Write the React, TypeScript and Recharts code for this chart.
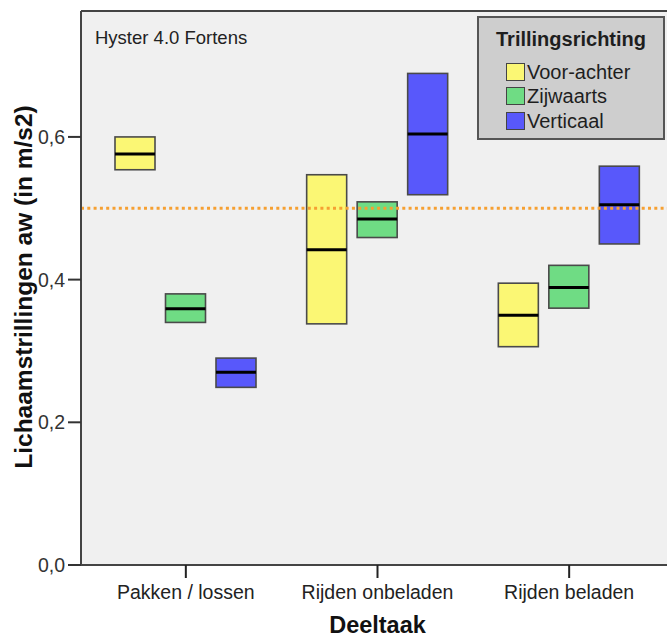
import React from 'react';
import {
  ComposedChart,
  Bar,
  XAxis,
  YAxis,
  CartesianGrid,
  ReferenceLine,
  Legend,
  Label,
} from 'recharts';

// Sub-tasks on the category axis
const tasks = ['Pakken / lossen', 'Rijden onbeladen', 'Rijden beladen'];

// Vibration directions (one box per direction per task)
const directions = ['Voor-achter', 'Zijwaarts', 'Verticaal'];
const directionColors = ['#fbf774', '#6fdc84', '#5858fb'];

// Lower quartile, median and upper quartile of aw (m/s2), per direction
const q1VoorAchter = [0.554, 0.338, 0.306];
const medVoorAchter = [0.576, 0.442, 0.35];
const q3VoorAchter = [0.6, 0.547, 0.395];

const q1Zijwaarts = [0.34, 0.459, 0.36];
const medZijwaarts = [0.359, 0.485, 0.389];
const q3Zijwaarts = [0.38, 0.509, 0.42];

const q1Verticaal = [0.249, 0.519, 0.45];
const medVerticaal = [0.27, 0.604, 0.505];
const q3Verticaal = [0.29, 0.689, 0.559];

// Action value line
const limitValue = 0.5;

const yTicks = [0, 0.2, 0.4, 0.6];
const yMax = 0.7765;

const chartTitle = 'Hyster 4.0 Fortens';
const legendTitle = 'Trillingsrichting';
const xTitle = 'Deeltaak';
const yTitle = 'Lichaamstrillingen aw (in m/s2)';

const lowers = [q1VoorAchter, q1Zijwaarts, q1Verticaal];
const medians = [medVoorAchter, medZijwaarts, medVerticaal];
const uppers = [q3VoorAchter, q3Zijwaarts, q3Verticaal];

const data = tasks.map((task, i) => {
  const row: Record<string, number | string> = { task };
  directions.forEach((_, s) => {
    row[`base${s}`] = lowers[s][i];
    row[`box${s}`] = uppers[s][i] - lowers[s][i];
    row[`q1_${s}`] = lowers[s][i];
    row[`med${s}`] = medians[s][i];
    row[`q3_${s}`] = uppers[s][i];
  });
  return row;
});

const FONT = "'Liberation Sans', Arial, sans-serif";
const AXIS_COLOR = '#444';

// Box with its median line, drawn from the stacked bar geometry
const makeBoxShape = (s: number) => (props: any) => {
  const { x, y, width, height, payload } = props;
  const q1 = payload[`q1_${s}`] as number;
  const q3 = payload[`q3_${s}`] as number;
  const med = payload[`med${s}`] as number;
  const my = y + (height * (q3 - med)) / (q3 - q1);
  return (
    <g>
      <rect
        x={x}
        y={y}
        width={width}
        height={height}
        fill={directionColors[s]}
        stroke="#4a4a4a"
        strokeWidth={1.6}
      />
      <line x1={x} x2={x + width} y1={my} y2={my} stroke="#000" strokeWidth={3} />
    </g>
  );
};

// Legend panel, listed in series order
const LegendBox = () => (
  <div
    style={{
      boxSizing: 'border-box',
      width: 188,
      height: 124,
      background: '#cecece',
      border: '2px solid #555',
      fontFamily: FONT,
      color: '#1e1e1e',
    }}
  >
    <div
      style={{
        marginTop: 9,
        fontWeight: 'bold',
        fontSize: 20,
        lineHeight: '24px',
        textAlign: 'center',
      }}
    >
      {legendTitle}
    </div>
    <div style={{ marginTop: 9 }}>
      {directions.map((name, s) => (
        <div
          key={name}
          style={{ display: 'flex', alignItems: 'center', height: 24.3, marginLeft: 27 }}
        >
          <span
            style={{
              boxSizing: 'border-box',
              display: 'inline-block',
              width: 19,
              height: 18,
              background: directionColors[s],
              border: '1.5px solid #444',
            }}
          />
          <span style={{ fontSize: 20, lineHeight: '24px', marginLeft: 2 }}>{name}</span>
        </div>
      ))}
    </div>
  </div>
);

export default function App() {
  return (
    <div
      style={{
        position: 'absolute',
        left: 0,
        top: 0,
        width: 667,
        height: 638,
        overflow: 'hidden',
        background: '#fff',
        fontFamily: FONT,
      }}
    >
      <ComposedChart
        width={690}
        height={638}
        data={data}
        margin={{ top: 11, right: 0, bottom: 0, left: 0 }}
        barSize={40}
        barGap={10.5}
      >
        <CartesianGrid fill="#f0f0f0" horizontal={false} vertical={false} />
        <XAxis
          dataKey="task"
          type="category"
          height={73}
          padding={{ left: 9, right: 25 }}
          axisLine={{ stroke: AXIS_COLOR, strokeWidth: 2 }}
          tickLine={{ stroke: '#222', strokeWidth: 2 }}
          tickSize={13}
          tickMargin={7}
          tick={{ fontSize: 19.5, fill: '#222' }}
        >
          <Label
            value={xTitle}
            position="insideBottom"
            offset={5}
            dx={-8}
            style={{ fontSize: 23.5, fontWeight: 'bold', fill: '#111' }}
          />
        </XAxis>
        <YAxis
          type="number"
          width={81}
          domain={[0, yMax]}
          ticks={yTicks}
          interval={0}
          tickFormatter={(v: number) => v.toFixed(1).replace('.', ',')}
          axisLine={{ stroke: AXIS_COLOR, strokeWidth: 2 }}
          tickLine={{ stroke: '#333', strokeWidth: 2 }}
          tickSize={13}
          tickMargin={3}
          tick={{ fontSize: 19.5, fill: '#333' }}
        >
          <Label
            content={() => (
              <g>
                <text
                  x={32}
                  y={287}
                  transform="rotate(-90, 32, 287)"
                  textAnchor="middle"
                  style={{ fontSize: 24.5, fontWeight: 'bold', fill: '#111' }}
                >
                  {yTitle}
                </text>
                <text x={95} y={44} style={{ fontSize: 18.5, fill: '#222' }}>
                  {chartTitle}
                </text>
              </g>
            )}
          />
        </YAxis>
        {directions.map((d, s) => (
          <Bar
            key={`base${s}`}
            dataKey={`base${s}`}
            stackId={`s${s}`}
            fill="transparent"
            legendType="none"
            isAnimationActive={false}
          />
        ))}
        {directions.map((d, s) => (
          <Bar
            key={`box${s}`}
            dataKey={`box${s}`}
            name={d}
            stackId={`s${s}`}
            fill={directionColors[s]}
            shape={makeBoxShape(s)}
            isAnimationActive={false}
          />
        ))}
        <ReferenceLine y={yMax} stroke={AXIS_COLOR} strokeWidth={2} />
        <ReferenceLine
          y={limitValue}
          stroke="#f6a032"
          strokeWidth={3}
          strokeDasharray="3 3.3"
        />
        <Legend
          layout="vertical"
          align="center"
          verticalAlign="middle"
          content={<LegendBox />}
          wrapperStyle={{ left: 477, top: 16, width: 188, height: 124 }}
        />
      </ComposedChart>
    </div>
  );
}
